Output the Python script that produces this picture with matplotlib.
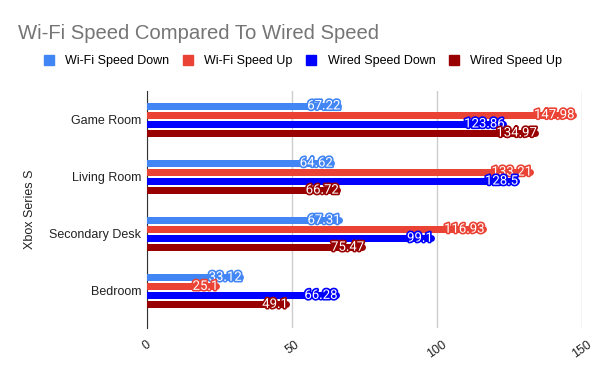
import numpy as np
import matplotlib
matplotlib.use("Agg")
import matplotlib.pyplot as plt
import matplotlib.patheffects as pe
from matplotlib.patches import Patch

plt.rcParams['font.family'] = ['Liberation Sans', 'DejaVu Sans']

rooms = ["Game Room", "Living Room", "Secondary Desk", "Bedroom"]
series = ["Wi-Fi Speed Down", "Wi-Fi Speed Up", "Wired Speed Down", "Wired Speed Up"]
wifi_down = [67.22, 64.62, 67.31, 33.12]
wifi_up = [147.98, 133.21, 116.93, 25.1]
wired_down = [123.86, 128.5, 99.1, 66.28]
wired_up = [134.97, 66.72, 75.47, 49.1]
colors = ["#4285f4", "#ea4335", "#0000ff", "#990000"]
xticks = [0, 50, 100, 150]

fig = plt.figure(figsize=(6, 3.71), dpi=100)
ax = fig.add_axes([0.245, 0.116, 0.725, 0.639])

step = 0.158
bar_px = 7.0
lw_pt = bar_px * 72 / 100
r = (bar_px / 2) * 150 / 435.0   # half bar height in data units (x)
ypos = np.arange(len(rooms))
all_vals = [wifi_down, wifi_up, wired_down, wired_up]
for i, (vals, col) in enumerate(zip(all_vals, colors)):
    off = (i - 1.5) * step
    for y, v in zip(ypos + off, vals):
        # bar with rounded right end; left cap is clipped at x=0
        ax.plot([0, v - r], [y, y], color=col, lw=lw_pt,
                solid_capstyle='round', zorder=3)
        txt = ax.text(v - 0.5, y, str(v), ha='right', va='center', color='white',
                      fontsize=9.5, family=['Roboto', 'DejaVu Sans'], zorder=4)
        txt.set_path_effects([pe.withStroke(linewidth=2.4, foreground=col)])

ax.set_xlim(0, 150)
ax.set_ylim(3.65, -0.5)
ax.set_yticks(ypos)
ax.set_yticklabels(rooms, fontsize=9, color='#222222')
ax.set_xticks(xticks)
ax.set_xticklabels([str(t) for t in xticks], rotation=35, fontsize=9, color='#222222')
ax.tick_params(axis='both', length=0, pad=4)
ax.tick_params(axis='x', pad=8)
ax.grid(axis='x', color='#cccccc', linewidth=1, zorder=0)
for s in ['top', 'right', 'bottom']:
    ax.spines[s].set_visible(False)
ax.spines['left'].set_color('#333333')
ax.set_ylabel("Xbox Series S", fontsize=9, color='#222222', labelpad=9.5)

fig.text(0.03, 0.91, "Wi-Fi Speed Compared To Wired Speed", fontsize=14.6,
         color='#757575', va='center')
handles = [Patch(color=c, label=s) for c, s in zip(colors, series)]
fig.legend(handles=handles, loc='center', bbox_to_anchor=(0.505, 0.835), ncol=4,
           frameon=False, fontsize=9, handlelength=0.8, handleheight=0.8,
           columnspacing=1.1, handletextpad=0.9)

fig.savefig("out.png", dpi=100)
